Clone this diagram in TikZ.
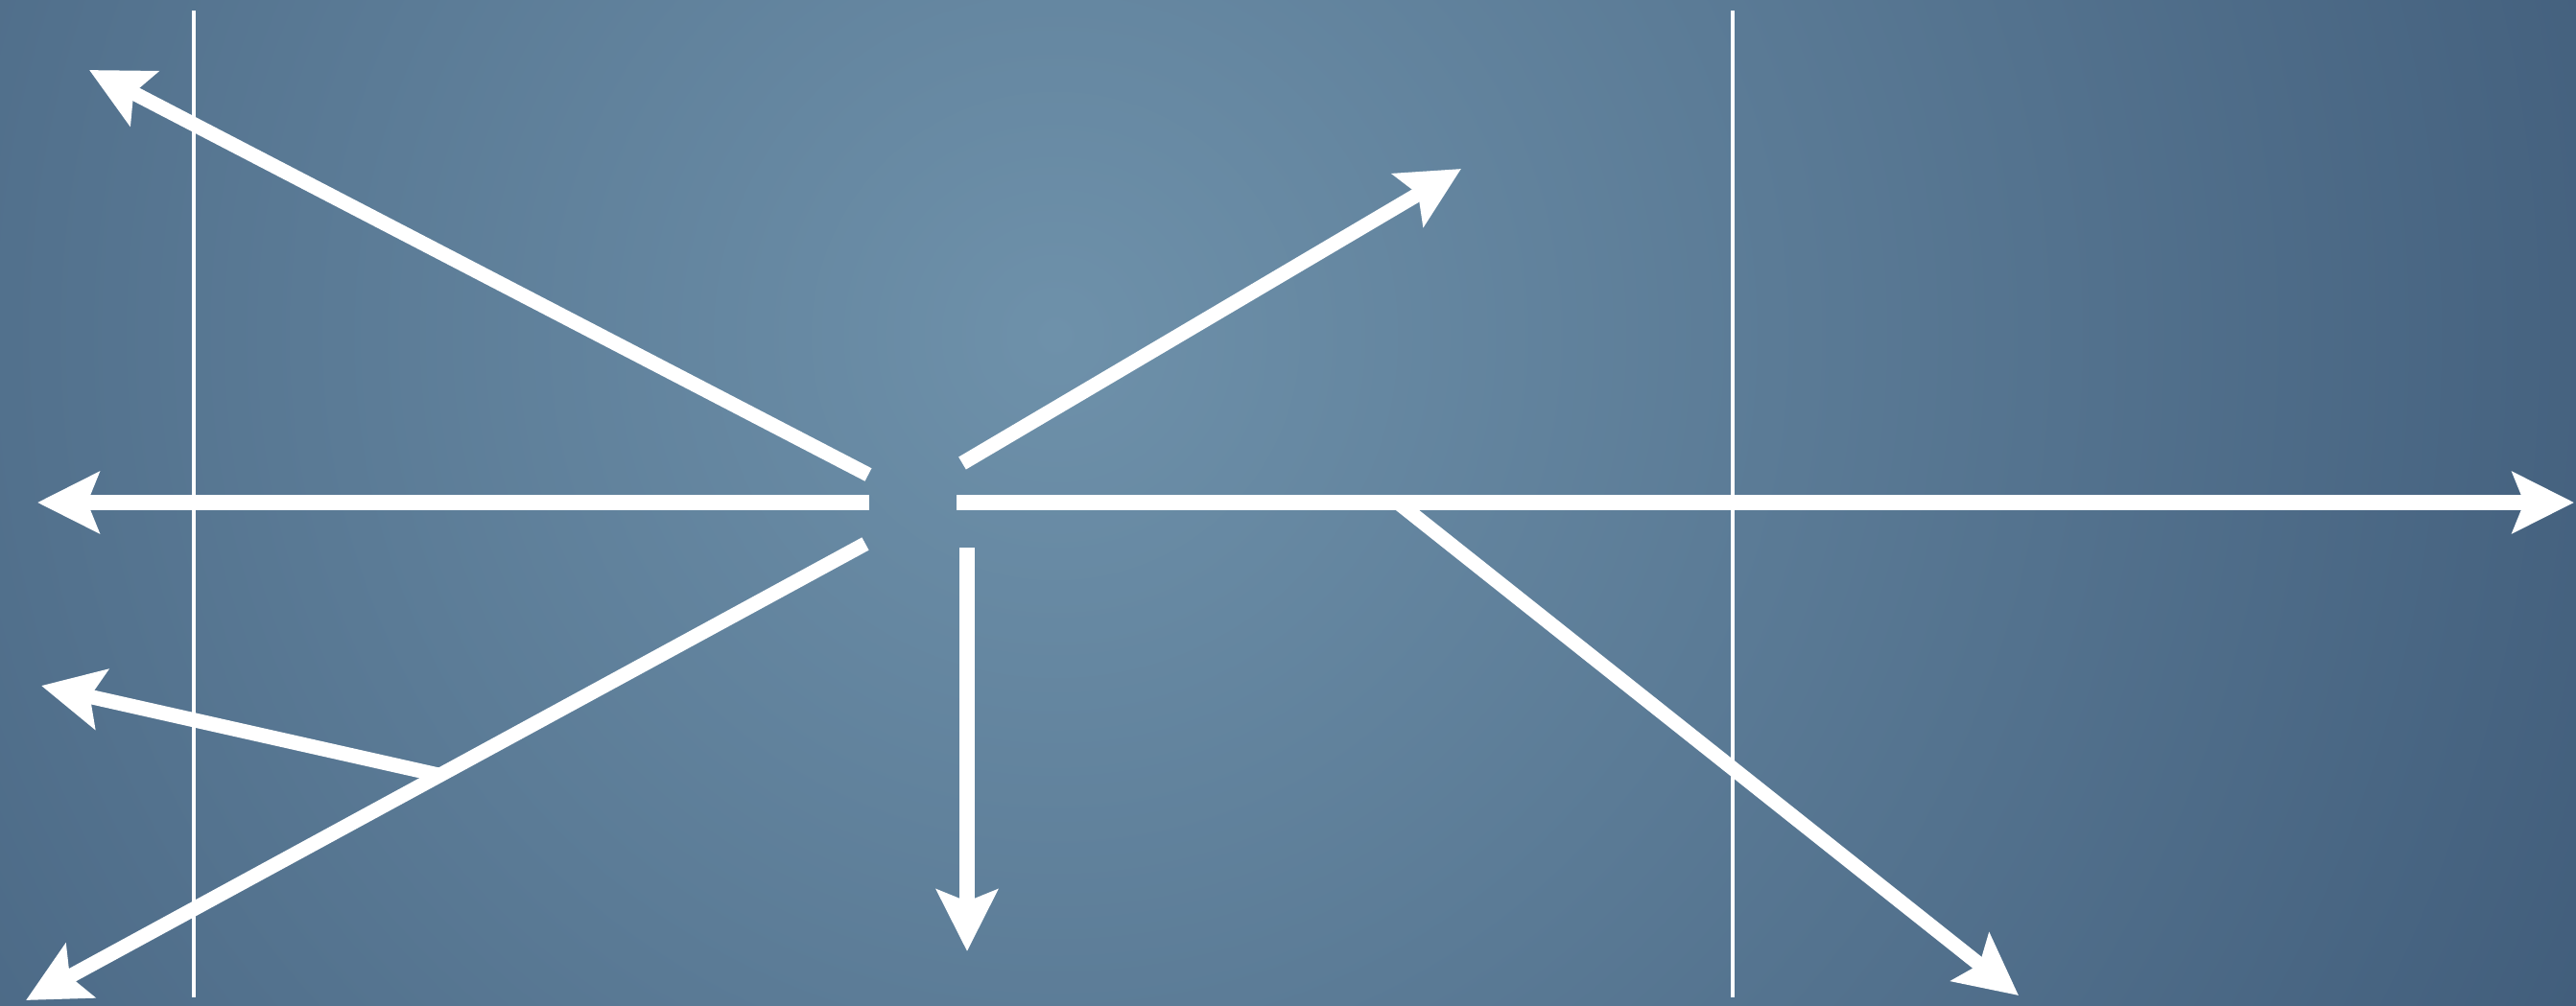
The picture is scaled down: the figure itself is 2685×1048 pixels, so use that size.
\documentclass[tikz,border=0pt]{standalone}
\usepackage{tikz}
\usetikzlibrary{arrows.meta,calc}
\definecolor{bgLight}{RGB}{110,145,170}
\definecolor{bgDark}{RGB}{64,92,122}
\tikzset{
  raybase/.style={draw=white,line width=4.3pt},
  rayarr/.style={raybase,-{Stealth[length=6.4mm,width=6.3mm,inset=1.2mm]}},
  guideln/.style={draw=white,line width=1.4pt}
}

\begin{document}
\begin{tikzpicture}[x=0.01cm,y=-0.01cm]
  % background
  \useasboundingbox (0,0) rectangle (2685,1048);
  \begin{scope}
    \clip (0,0) rectangle (2685,1048);
    \shade[inner color=bgLight,outer color=bgDark] (1100,350) circle[radius=18cm];
  \end{scope}
  % guide lines
  \coordinate (g1t) at (202,11);  \coordinate (g1b) at (202,1040);
  \coordinate (g2t) at (1806,11); \coordinate (g2b) at (1806,1040);
  \draw[guideln] (g1t) -- (g1b);
  \draw[guideln] (g2t) -- (g2b);
  % ray starts round the centre
  \coordinate (ulS) at (905,495);  \coordinate (ulE) at (93,73);
  \coordinate (lS)  at (906,524);  \coordinate (lE)  at (39,524);
  \coordinate (dlS) at (902,567);  \coordinate (dlE) at (27,1043);
  \coordinate (urS) at (1003,483); \coordinate (urE) at (1523,176);
  \coordinate (rS)  at (997,524);  \coordinate (rE)  at (2683,524);
  \coordinate (dS)  at (1008,571); \coordinate (dE)  at (1008,992);
  % branch points
  \coordinate (lbS) at ($(dlS)!0.507!(dlE)$); \coordinate (lbE) at (43,715);
  \coordinate (drS) at (1457,524);            \coordinate (drE) at (2104,1038);
  \foreach \a in {ul,l,dl,ur,r,d,lb,dr}
    \draw[rayarr] (\a S) -- (\a E);
\end{tikzpicture}
\end{document}
